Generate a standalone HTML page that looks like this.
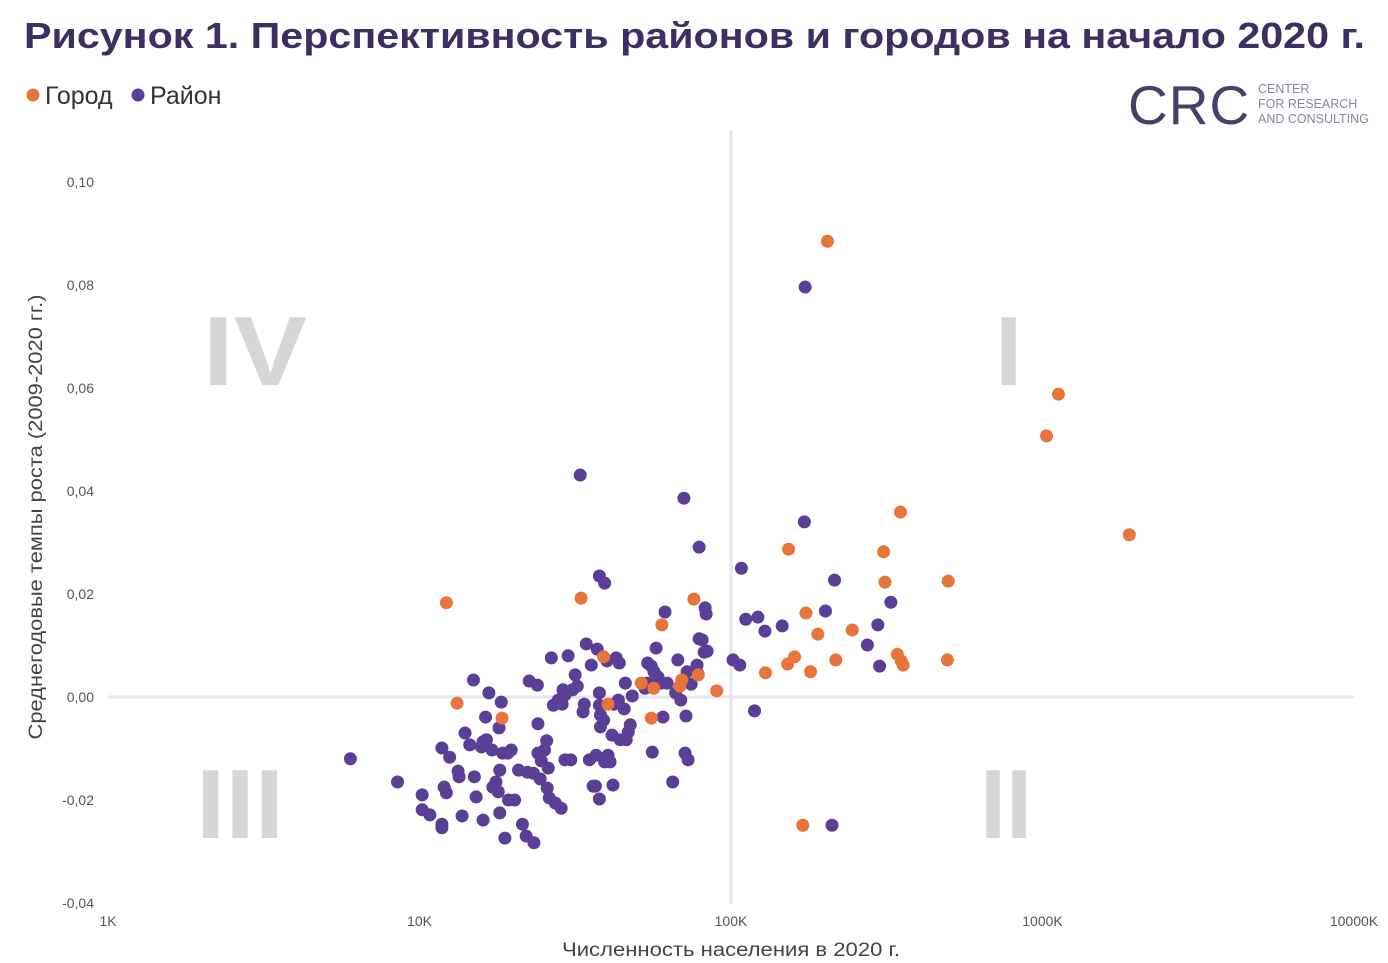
<!DOCTYPE html>
<html><head><meta charset="utf-8">
<style>
html,body{margin:0;padding:0;background:#fff;width:1388px;height:963px;overflow:hidden}
svg{display:block;font-family:"Liberation Sans",sans-serif}
</style></head>
<body>
<svg id="chart" width="1388" height="963">
<text x="24" y="48" font-size="36" font-weight="bold" fill="#3d2f63" textLength="1341" lengthAdjust="spacingAndGlyphs">Рисунок 1. Перспективность районов и городов на начало 2020 г.</text>
<g>
<circle cx="33" cy="95" r="6.5" fill="#e8743b"/>
<text x="45" y="104" font-size="25" fill="#333">Город</text>
<circle cx="138" cy="95" r="6.5" fill="#5b3e96"/>
<text x="150" y="104" font-size="25" fill="#333">Район</text>
</g>
<g>
<text x="1128" y="124" font-size="55" fill="#4a3f6b" letter-spacing="1">CRC</text>
<text x="1258" y="93" font-size="12.5" fill="#8a84a0">CENTER</text>
<text x="1258" y="108" font-size="12.5" fill="#8a84a0">FOR RESEARCH</text>
<text x="1258" y="123" font-size="12.5" fill="#8a84a0">AND CONSULTING</text>
</g>
<g font-weight="bold" fill="#d6d6d6" font-size="98">
<text x="203" y="385" textLength="104" lengthAdjust="spacingAndGlyphs">IV</text>
<text x="995" y="385">I</text>
<text x="196" y="838" textLength="88" lengthAdjust="spacingAndGlyphs">III</text>
<text x="980" y="838" textLength="52" lengthAdjust="spacingAndGlyphs">II</text>
</g>
<g id="axes"></g>
<g id="marks"></g>
<text transform="translate(42,517) rotate(-90)" text-anchor="middle" font-size="19" fill="#444" textLength="445" lengthAdjust="spacingAndGlyphs">Среднегодовые темпы роста (2009-2020 гг.)</text>
<text x="731" y="956" text-anchor="middle" font-size="19" fill="#444" textLength="338" lengthAdjust="spacingAndGlyphs">Численность населения в 2020 г.</text>
</svg>
<script>
const xTicks=[1,10,100,1000,10000];
const xTickLabels=["1K","10K","100K","1000K","10000K"];
const yTicks=[0.10,0.08,0.06,0.04,0.02,0.00,-0.02,-0.04];
const yTickLabels=["0,10","0,08","0,06","0,04","0,02","0,00","-0,02","-0,04"];
const cityPop=[204,1125,1030,1900,350,309,312,498,153,76,33,12.2,174,60,190,245,342,352,357,495,217,160,152,180,129,90,68.5,69.5,51.5,39,13.2,18.4,40.3,55.5,56.5,170,78.5];
const cityGrowth=[0.0885,0.0588,0.0507,0.0315,0.0359,0.0282,0.0223,0.0225,0.0287,0.019,0.0192,0.0183,0.0163,0.014,0.0122,0.013,0.0083,0.007,0.0062,0.0072,0.0072,0.0078,0.0064,0.0049,0.0047,0.0012,0.0021,0.0033,0.0027,0.0078,-0.0012,-0.0041,-0.0014,-0.0041,0.0017,-0.0249,0.0043];
const distPop=[6.0,8.5,10.2,10.2,10.8,11.8,11.8,12.0,12.2,11.8,12.5,13.3,13.4,13.7,14.0,14.5,14.9,15.0,15.2,15.8,16.0,16.0,16.3,16.4,16.7,17.1,17.2,17.6,17.9,18.1,18.1,18.3,18.0,18.5,18.8,19.2,19.3,19.7,20.2,20.8,21.4,22.0,22.2,22.5,23.2,23.3,23.9,24.0,24.4,24.0,24.6,25.2,25.6,25.7,25.9,26.1,26.5,26.9,27.3,27.9,28.5,28.7,28.9,29.3,29.3,30.0,30.6,31.0,31.6,32.1,32.8,33.5,33.8,34.3,35.1,35.6,36.1,36.7,36.9,37.2,37.8,37.8,37.8,38.1,38.1,37.8,39,39.3,39.3,40,40.3,40.9,41.5,41.8,42.1,42.8,43.5,43.8,44.1,45.4,45.8,46.1,46.8,47.5,48.2,53,54,54,55.5,55.9,56.6,57.5,58.3,59.6,60.5,61.4,62.4,65,66.4,67.5,69,70.6,71.2,71.7,72.3,72.8,74.5,77.8,78.4,79,79,80.8,82,82.6,83.2,83.8,101.5,106.7,108,111.5,119,122,128.5,146,172,173,201,215,211,274,296,300,326];
const distGrowth=[-0.012,-0.0165,-0.019,-0.0219,-0.0229,-0.0247,-0.0254,-0.0175,-0.0186,-0.0099,-0.0117,-0.0144,-0.0155,-0.0231,-0.007,-0.0093,0.0033,-0.0155,-0.0194,-0.0097,-0.0239,-0.0087,-0.0039,-0.0083,0.0008,-0.0103,-0.0175,-0.0165,-0.0184,-0.0225,-0.0142,-0.001,-0.006,-0.0109,-0.0274,-0.0109,-0.02,-0.0103,-0.02,-0.0142,-0.0247,-0.027,-0.0146,0.0031,-0.0148,-0.0283,0.0023,-0.0109,-0.0159,-0.0052,-0.0124,-0.0103,-0.0085,-0.0177,-0.0138,-0.0196,0.0076,-0.0016,-0.0206,-0.0006,-0.0216,-0.0014,0.0014,0.0004,-0.0122,0.008,-0.0122,0.0014,0.0043,0.0021,0.0431,-0.0029,-0.0014,0.0103,-0.0122,0.0062,-0.0173,-0.0173,-0.0113,0.0093,0.0235,-0.0016,0.0008,-0.0035,-0.0058,-0.0198,-0.0045,0.0221,-0.0126,0.007,-0.0113,-0.0126,-0.0074,-0.0171,-0.0014,0.0076,-0.0006,0.0066,-0.0083,-0.0023,0.0027,-0.0083,-0.0068,-0.0054,0.0002,0.0017,0.0066,0.0027,0.006,-0.0107,0.0049,0.0095,0.0039,0.0027,-0.0039,0.0165,0.0027,-0.0165,0.0008,0.0072,-0.0006,0.0386,-0.0109,-0.0037,0.0049,-0.0122,0.0025,0.0062,0.0045,0.0291,0.0113,0.0111,0.0087,0.0173,0.0161,0.0089,0.0072,0.0062,0.025,0.0151,-0.0027,0.0155,0.0128,0.0138,0.034,0.0796,0.0167,0.0227,-0.0249,0.0101,0.014,0.006,0.0184];

const NS='http://www.w3.org/2000/svg';
const X=v=>108+311.5*Math.log10(v);
const Y=v=>697-5150*v;
const axes=document.getElementById('axes'), marks=document.getElementById('marks');
function mk(tag,attrs,parent){const e=document.createElementNS(NS,tag);for(const k in attrs)e.setAttribute(k,attrs[k]);parent.appendChild(e);return e;}

let l=mk('line',{x1:X(100),x2:X(100),y1:130,y2:904,stroke:'#e6e4f0','stroke-width':3},axes);


l=mk('line',{x1:X(1),x2:X(10000),y1:Y(0),y2:Y(0),stroke:'#e6e4f0','stroke-width':3},axes);



xTicks.forEach((t,i)=>{
  const tx=mk('text',{x:X(t),y:926,'text-anchor':'middle','font-size':14,fill:'#555'},axes);
  tx.textContent=xTickLabels[i];
  
  
});
yTicks.forEach((t,i)=>{
  const tx=mk('text',{x:94,y:Y(t)+5,'text-anchor':'end','font-size':14,fill:'#555'},axes);
  tx.textContent=yTickLabels[i];
  
  
});
distPop.forEach((p,i)=>{
  const c=mk('circle',{cx:X(p),cy:Y(distGrowth[i]),r:6.5,fill:'#5b3e96'},marks);
  
  
});
cityPop.forEach((p,i)=>{
  const c=mk('circle',{cx:X(p),cy:Y(cityGrowth[i]),r:6.5,fill:'#e8743b'},marks);
  
  
});
</script>
</body></html>
